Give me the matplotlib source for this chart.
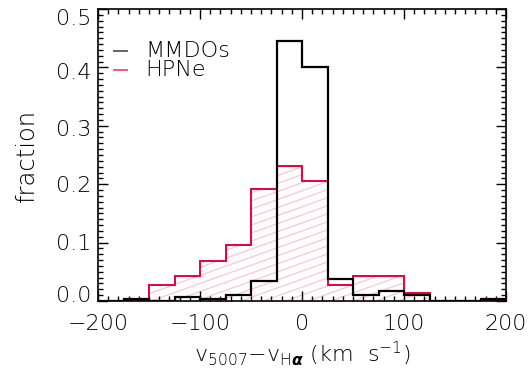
import numpy as np
import matplotlib
matplotlib.use("Agg")
import matplotlib.pyplot as plt
from matplotlib.collections import LineCollection
from matplotlib.transforms import ScaledTranslation

# Data
bin_edges = [-200, -175, -150, -125, -100, -75, -50, -25, 0, 25, 50, 75, 100, 125, 150, 175, 200]
mmdo_frac = [0.0, 0.004, 0.0, 0.007, 0.004, 0.011, 0.034, 0.446, 0.400, 0.038, 0.011, 0.017, 0.011, 0.0, 0.0, 0.004]
hpne_frac = [0.0, 0.0, 0.028, 0.042, 0.069, 0.096, 0.191, 0.232, 0.205, 0.028, 0.042, 0.042, 0.014, 0.0, 0.0, 0.0]
x_ticks = [-200, -100, 0, 100, 200]
y_ticks = [0.0, 0.1, 0.2, 0.3, 0.4, 0.5]
series_names = ["MMDOs", "HPNe"]

plt.rcParams['font.family'] = ['DejaVu Sans']
plt.rcParams['font.weight'] = 'light'
plt.rcParams['axes.labelweight'] = 'light'
plt.rcParams['mathtext.fontset'] = 'custom'
plt.rcParams['mathtext.rm'] = 'DejaVu Sans:light'
plt.rcParams['mathtext.it'] = 'DejaVu Sans:light'
plt.rcParams['mathtext.bf'] = 'DejaVu Sans:bold'
FS = 16

fig = plt.figure(figsize=(5.28, 3.77), dpi=100)
ax = fig.add_axes([98/528, 1-301/377, 408/528, 292/377])

red = '#e8003c'
pink = '#fbc6d0'

# HPNe hatch fill (clip region)
clip = ax.stairs(hpne_frac, bin_edges, baseline=0, fill=True, facecolor='none', edgecolor='none')
segs = []
slope = 0.50
for c in np.arange(-1.0, 1.2, 0.0275):
    segs.append([(0, c), (1, c + slope)])
lc = LineCollection(segs, colors=pink, linewidths=0.9, transform=ax.transAxes, zorder=1)
ax.add_collection(lc)
lc.set_clip_path(clip)

ax.stairs(hpne_frac, bin_edges, baseline=0, color=red, linewidth=1.4, zorder=2)
ax.stairs(mmdo_frac, bin_edges, baseline=0, color='black', linewidth=1.6, zorder=3)

ax.set_xlim(-200, 200)
ax.set_ylim(0, 0.5)
ax.set_xticks(x_ticks)
ax.set_xticklabels(['\u2212200', '\u2212100', '0', '100', '200'])
ax.set_yticks(y_ticks)
ax.set_yticklabels(['%.1f' % v for v in y_ticks])
ax.set_xticks(np.arange(-200, 201, 10), minor=True)
ax.set_yticks(np.arange(0, 0.501, 0.01), minor=True)
ax.tick_params(which='both', direction='in', top=True, right=True, labelsize=FS, width=1.0)
ax.tick_params(which='major', length=7)
ax.tick_params(which='minor', length=3.5)
ax.tick_params(axis='x', pad=9)
ax.tick_params(axis='y', pad=5)
for s in ax.spines.values():
    s.set_linewidth(1.2)

# IDL-like inward placement of the end y labels
shifts_px = [7, 1, 0, -2, -4, -8]
for lab, dy in zip(ax.get_yticklabels(), shifts_px):
    lab.set_transform(lab.get_transform() + ScaledTranslation(0, dy / 100.0, fig.dpi_scale_trans))

ax.set_xlabel(r'v$_{\mathregular{5007}}$$-$v$_{\mathregular{H}\boldsymbol{\alpha}}$ (km  s$^{\mathregular{-1}}$)',
              fontsize=FS, fontweight='light')
ax.set_ylabel('fraction', fontsize=17.5, labelpad=12, fontweight='light')

# Legend
ax.plot([0.04, 0.07], [0.855, 0.855], color='#555555', lw=1.3, transform=ax.transAxes)
ax.plot([0.04, 0.07], [0.79, 0.79], color='#e8506e', lw=1.3, transform=ax.transAxes)
ax.text(0.115, 0.855, series_names[0], transform=ax.transAxes, fontsize=FS, va='center', ha='left')
ax.text(0.115, 0.79, series_names[1], transform=ax.transAxes, fontsize=FS, va='center', ha='left')

fig.savefig('out.png', dpi=100)
